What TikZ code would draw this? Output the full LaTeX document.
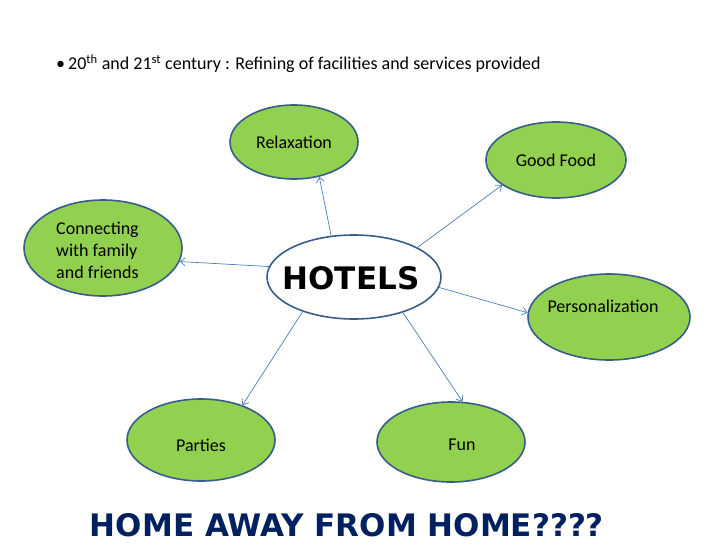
\documentclass[tikz,border=0pt]{standalone}
\usepackage{fontspec}
\setmainfont{Carlito}
\newfontfamily\comicfont{DejaVu Sans}
\usetikzlibrary{shapes.geometric,arrows.meta}
\definecolor{leafgreen}{HTML}{92D050}
\definecolor{rimblue}{HTML}{385D8A}
\definecolor{linkblue}{HTML}{4A7EBB}
\definecolor{navy}{HTML}{002060}
\tikzset{
  bubble/.style={ellipse,draw=rimblue,line width=1.6pt,fill=leafgreen,inner sep=0pt},
  hub/.style={ellipse,draw=rimblue,line width=1.6pt,fill=white,inner sep=0pt},
  word/.style={font=\fontsize{18}{22}\selectfont,text=black,inner sep=0pt},
  link/.style={draw=linkblue,line width=0.7pt,-{Straight Barb[length=5pt,width=8pt]}}
}
\begin{document}
\begin{tikzpicture}[x=1pt,y=-1pt]
  \useasboundingbox (0,0) rectangle (728,546);
  % heading
  \node[word,anchor=west] (head) at (56,64)
    {\raisebox{0.5pt}{\textbullet}\,20\textsuperscript{th} and 21\textsuperscript{st} century : Refining of facilities and services provided};
  % bubbles
  \node[hub,minimum width=174pt,minimum height=84pt] (hotels) at (354,277) {};
  \node[bubble,minimum width=128pt,minimum height=74pt] (relax) at (294,142) {};
  \node[bubble,minimum width=140pt,minimum height=76pt] (food) at (556,160) {};
  \node[bubble,minimum width=158pt,minimum height=96pt] (family) at (103,248) {};
  \node[bubble,minimum width=162pt,minimum height=86pt] (personal) at (609,317) {};
  \node[bubble,minimum width=148pt,minimum height=82pt] (parties) at (201,440) {};
  \node[bubble,minimum width=148pt,minimum height=80pt] (fun) at (451,442) {};
  % texts
  \node[font=\comicfont\bfseries\fontsize{31}{36}\selectfont,inner sep=0pt] (hotels-t) at (351,278) {HOTELS};
  \node[word] (relax-t) at (294,142) {Relaxation};
  \node[word] (food-t) at (556,160) {Good Food};
  \node[word,align=left,anchor=west] (family-t) at (56,250) {Connecting\\with family\\and friends};
  \node[word] (personal-t) at (603,306) {Personalization};
  \node[word] (parties-t) at (201,445) {Parties};
  \node[word] (fun-t) at (462,445) {Fun};
  % arrows
  \draw[link] (hotels.119) -- (relax.-54);
  \draw[link] (hotels.25) -- (food.205);
  \draw[link] (hotels.173) -- (family.-10);
  \draw[link] (hotels.-7) -- (personal.177);
  \draw[link] (hotels.214) -- (parties.40);
  \draw[link] (hotels.-36) -- (fun.74);
  % footer
  \node[font=\comicfont\bfseries\fontsize{31}{36}\selectfont,text=navy,inner sep=0pt] (motto) at (347,525)
    {HOME AWAY FROM HOME????};
\end{tikzpicture}
\end{document}
